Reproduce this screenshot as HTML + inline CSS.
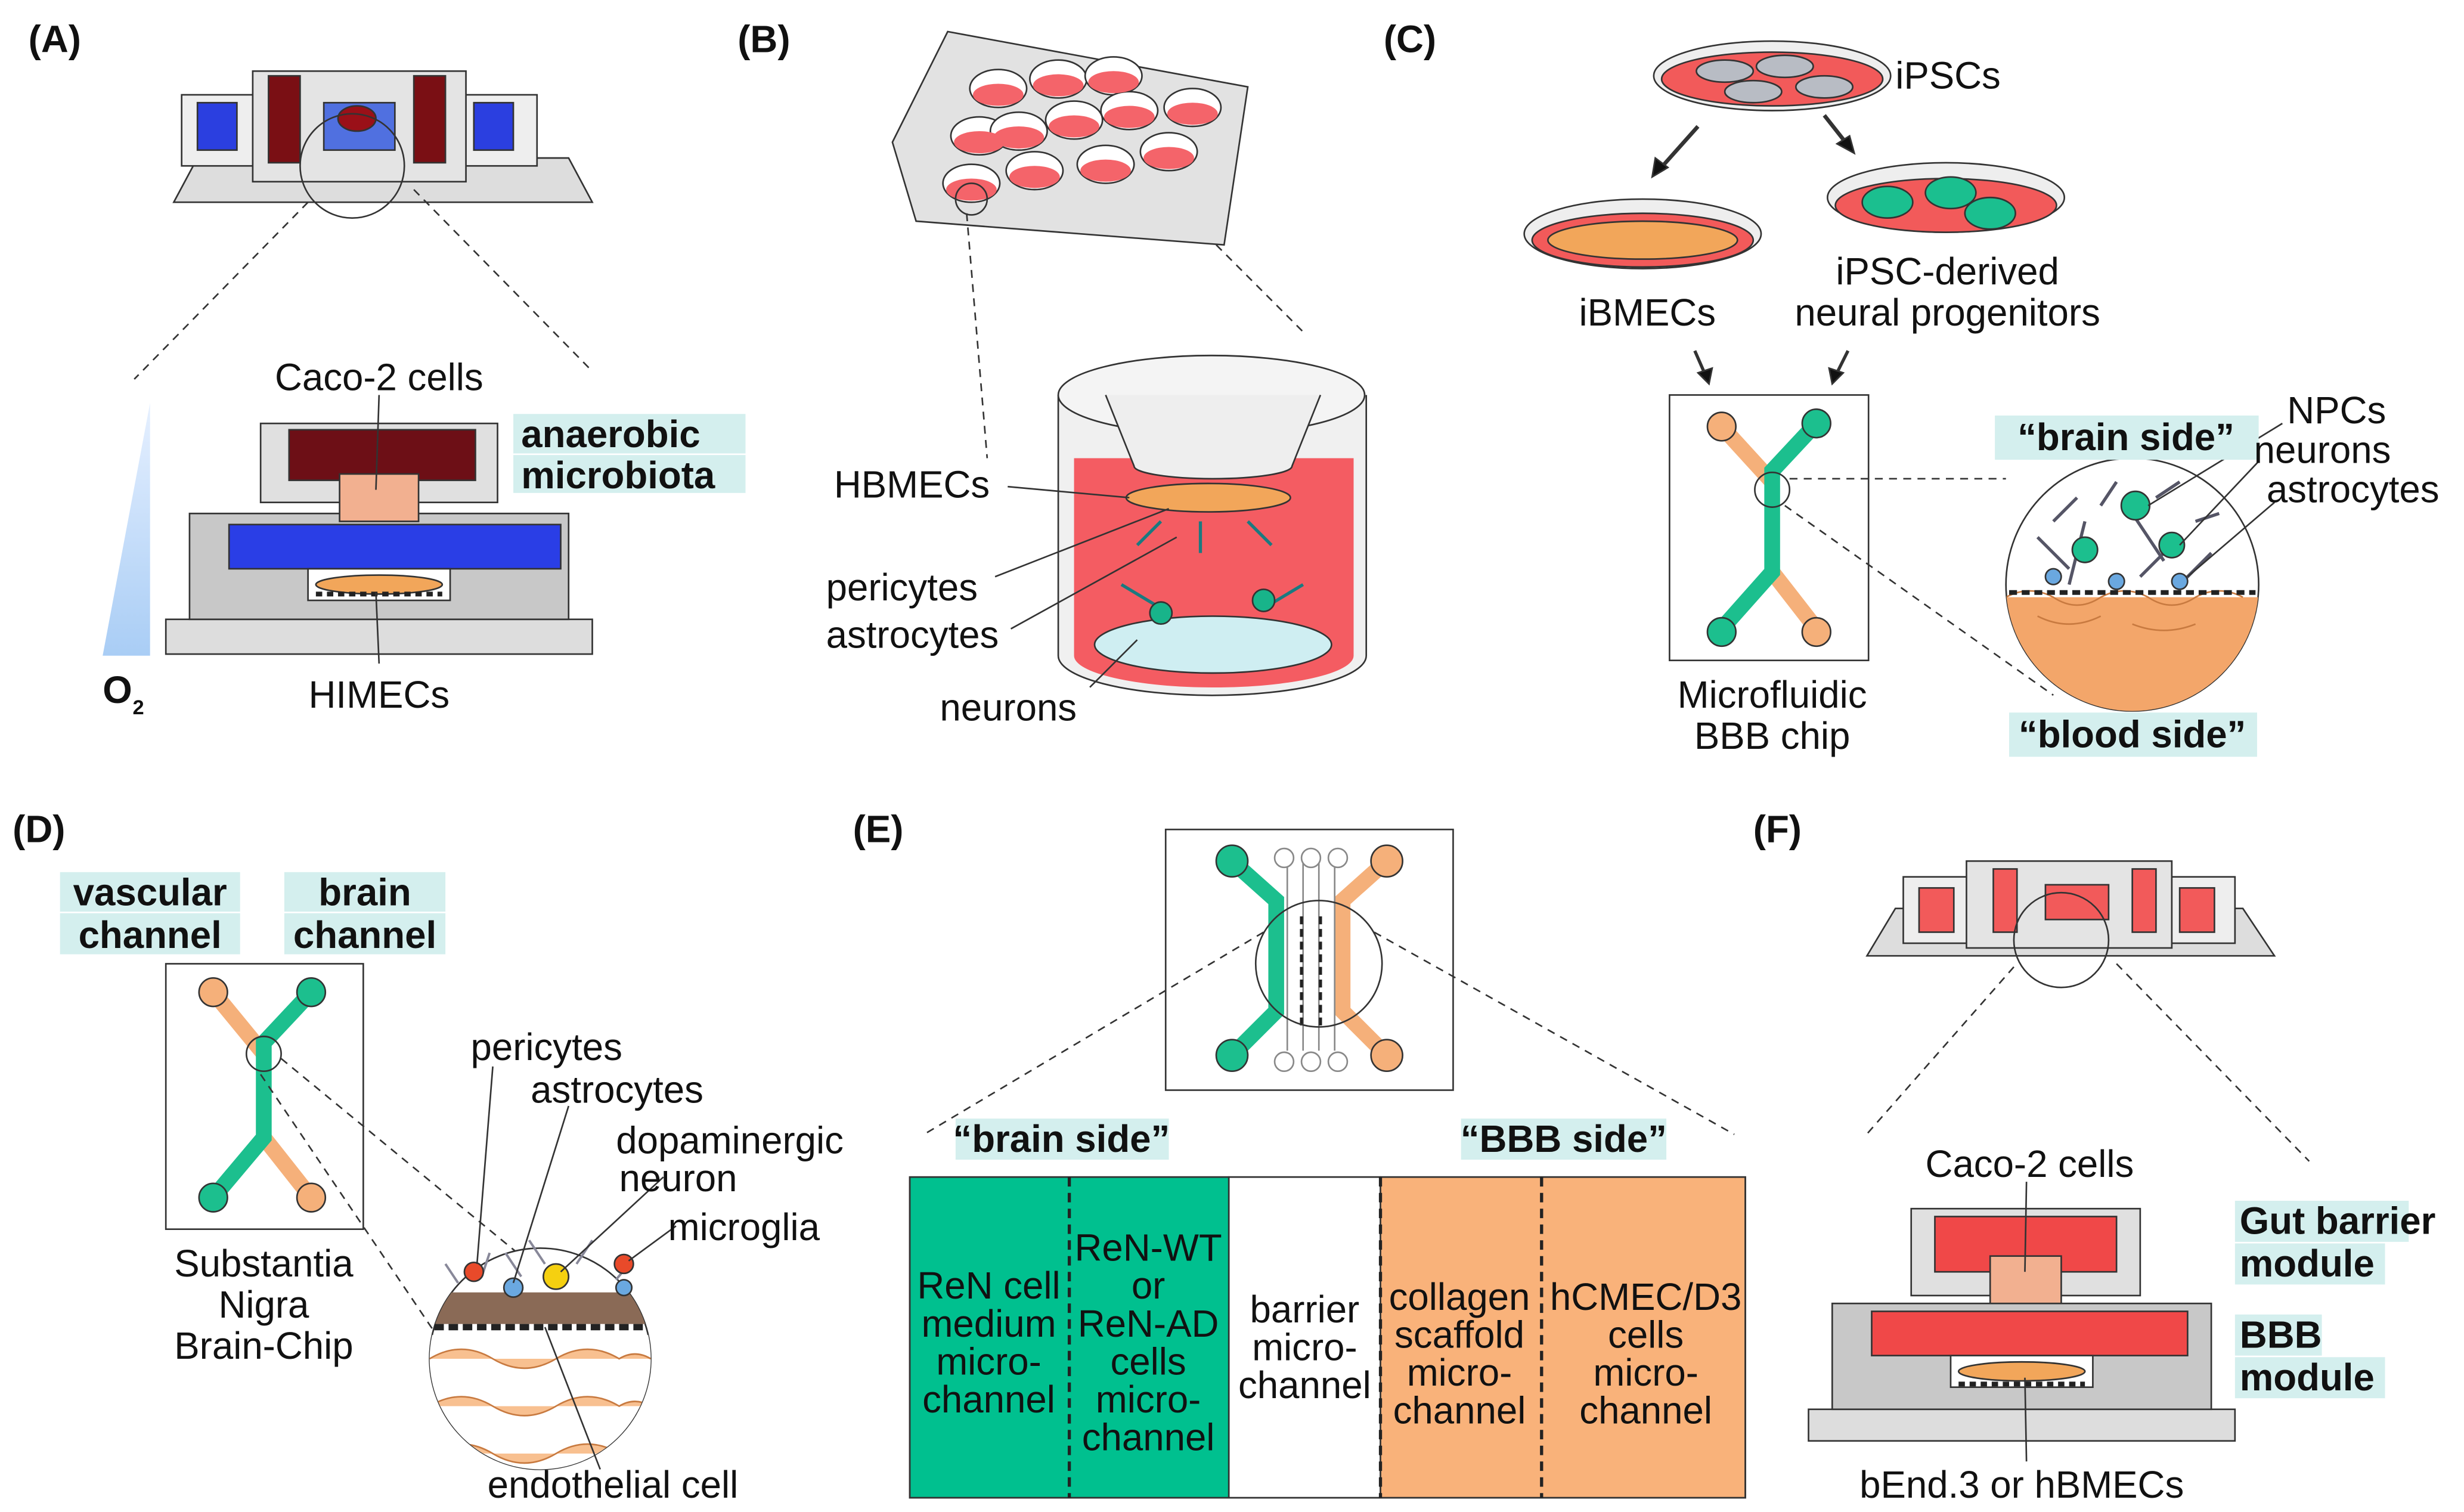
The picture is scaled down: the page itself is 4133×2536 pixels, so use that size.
<!DOCTYPE html>
<html><head><meta charset="utf-8"><style>
html,body{margin:0;padding:0;background:#fff;width:4133px;height:2536px;overflow:hidden}
svg{display:block}
text{font-family:"Liberation Sans",sans-serif;fill:#111}
.l{font-size:24px}
.b{font-size:24px;font-weight:bold}
</style></head><body>
<svg width="4133" height="2536" viewBox="0 0 1560 957" preserveAspectRatio="none" xmlns="http://www.w3.org/2000/svg">
<defs>
<linearGradient id="o2" x1="0" y1="0" x2="0" y2="1"><stop offset="0" stop-color="#e6f0ff"/><stop offset="1" stop-color="#a9cdf5"/></linearGradient>
<clipPath id="cc"><circle cx="1350" cy="370" r="80"/></clipPath>
<clipPath id="cd"><circle cx="342" cy="860" r="70"/></clipPath>
</defs>
<g stroke="#333" stroke-width="1" fill="none">
<!-- ===== A ===== -->
<polygon points="110,128 375,128 360,100 125,100" fill="#ddd"/>
<rect x="115" y="60" width="50" height="45" fill="#eee"/><rect x="125" y="65" width="25" height="30" fill="#2b3fe0"/>
<rect x="290" y="60" width="50" height="45" fill="#eee"/><rect x="300" y="65" width="25" height="30" fill="#2b3fe0"/>
<rect x="160" y="45" width="135" height="70" fill="#e4e4e4"/>
<rect x="170" y="48" width="20" height="55" fill="#7a0f14"/><rect x="262" y="48" width="20" height="55" fill="#7a0f14"/>
<rect x="205" y="65" width="45" height="30" fill="#5070e0"/><ellipse cx="226" cy="75" rx="12" ry="8" fill="#9a1018"/>
<circle cx="223" cy="105" r="33"/>
<line x1="195" y1="128" x2="85" y2="240" stroke-dasharray="5,4"/>
<line x1="262" y1="120" x2="375" y2="235" stroke-dasharray="5,4"/>
<polygon points="65,415 95,415 95,255" fill="url(#o2)" stroke="none"/>
<rect x="105" y="392" width="270" height="22" fill="#ddd"/>
<rect x="120" y="325" width="240" height="67" fill="#c8c8c8"/>
<rect x="145" y="332" width="210" height="28" fill="#2a3ee6"/>
<rect x="165" y="268" width="150" height="50" fill="#e0e0e0"/>
<rect x="183" y="272" width="118" height="32" fill="#6d0f16"/>
<rect x="215" y="300" width="50" height="30" fill="#f2b090"/>
<rect x="195" y="360" width="90" height="20" fill="#fff"/>
<ellipse cx="240" cy="370" rx="40" ry="6" fill="#f2a65a"/>
<line x1="200" y1="376" x2="280" y2="376" stroke="#222" stroke-width="3" stroke-dasharray="4,3"/>
<line x1="240" y1="250" x2="238" y2="310"/>
<line x1="240" y1="420" x2="238" y2="375"/>
<!-- ===== B ===== -->
<polygon points="565,90 600,20 790,55 775,155 580,140" fill="#e2e2e2"/>
<g fill="#fff">
<ellipse cx="632" cy="56" rx="18" ry="12"/><ellipse cx="670" cy="50" rx="18" ry="12"/><ellipse cx="705" cy="48" rx="18" ry="12"/>
<ellipse cx="620" cy="86" rx="18" ry="12"/><ellipse cx="680" cy="76" rx="18" ry="12"/><ellipse cx="715" cy="70" rx="18" ry="12"/>
<ellipse cx="615" cy="116" rx="18" ry="12"/><ellipse cx="655" cy="108" rx="18" ry="12"/><ellipse cx="700" cy="104" rx="18" ry="12"/>
<ellipse cx="740" cy="96" rx="18" ry="12"/><ellipse cx="645" cy="83" rx="18" ry="12"/><ellipse cx="755" cy="68" rx="18" ry="12"/>
</g>
<g fill="#f4646a" stroke="none">
<ellipse cx="632" cy="60" rx="16" ry="7"/><ellipse cx="670" cy="54" rx="16" ry="7"/><ellipse cx="705" cy="52" rx="16" ry="7"/>
<ellipse cx="620" cy="90" rx="16" ry="7"/><ellipse cx="680" cy="80" rx="16" ry="7"/><ellipse cx="715" cy="74" rx="16" ry="7"/>
<ellipse cx="615" cy="120" rx="16" ry="7"/><ellipse cx="655" cy="112" rx="16" ry="7"/><ellipse cx="700" cy="108" rx="16" ry="7"/>
<ellipse cx="740" cy="100" rx="16" ry="7"/><ellipse cx="645" cy="87" rx="16" ry="7"/><ellipse cx="755" cy="72" rx="16" ry="7"/>
</g>
<circle cx="615" cy="126" r="10"/>
<line x1="612" y1="135" x2="625" y2="290" stroke-dasharray="5,4"/>
<line x1="770" y1="155" x2="825" y2="210" stroke-dasharray="5,4"/>
<path d="M670,250 v165 a97,25 0 0 0 195,0 v-165" fill="#f0f0f0"/>
<path d="M680,290 v125 a88,20 0 0 0 177,0 v-125 z" fill="#f45c62" stroke="none"/>
<ellipse cx="767" cy="250" rx="97" ry="25" fill="#f4f4f4"/>
<path d="M700,250 L718,295 a50,8 0 0 0 100,0 L836,250" fill="#eee"/>
<ellipse cx="768" cy="408" rx="75" ry="18" fill="#cfeef2"/>
<ellipse cx="765" cy="315" rx="52" ry="9" fill="#f2a65a"/>
<path d="M735,330 l-15,15 M760,330 l0,20 M790,330 l15,15 M735,385 l-25,-15 M800,385 l25,-15" stroke="#1a7a80" stroke-width="2"/>
<circle cx="735" cy="388" r="7" fill="#18b48a"/><circle cx="800" cy="380" r="7" fill="#18b48a"/>
<line x1="638" y1="308" x2="715" y2="315"/>
<line x1="630" y1="365" x2="740" y2="322"/>
<line x1="640" y1="398" x2="745" y2="340"/>
<line x1="690" y1="435" x2="720" y2="405"/>
<!-- ===== C ===== -->
<ellipse cx="1122" cy="48" rx="75" ry="22" fill="#eee"/><ellipse cx="1122" cy="50" rx="70" ry="17" fill="#f25a5a"/>
<ellipse cx="1092" cy="45" rx="18" ry="7" fill="#b8bcc4"/><ellipse cx="1130" cy="42" rx="18" ry="7" fill="#b8bcc4"/><ellipse cx="1110" cy="58" rx="18" ry="7" fill="#b8bcc4"/><ellipse cx="1155" cy="55" rx="18" ry="7" fill="#b8bcc4"/>
<ellipse cx="1040" cy="148" rx="75" ry="22" fill="#eee"/><ellipse cx="1040" cy="152" rx="70" ry="17" fill="#f25a5a"/>
<ellipse cx="1040" cy="152" rx="60" ry="12" fill="#f2a65a"/>
<ellipse cx="1232" cy="125" rx="75" ry="22" fill="#eee"/><ellipse cx="1232" cy="130" rx="70" ry="17" fill="#f25a5a"/>
<ellipse cx="1195" cy="128" rx="16" ry="10" fill="#1bbf8f"/><ellipse cx="1235" cy="122" rx="16" ry="10" fill="#1bbf8f"/><ellipse cx="1260" cy="135" rx="16" ry="10" fill="#1bbf8f"/>
<line x1="1075" y1="80" x2="1050" y2="108" stroke-width="2.5"/><polygon points="1046,112 1048,100 1056,106" fill="#111"/>
<line x1="1155" y1="73" x2="1170" y2="92" stroke-width="2.5"/><polygon points="1174,97 1163,91 1171,86" fill="#111"/>
<line x1="1073" y1="222" x2="1080" y2="238" stroke-width="2"/><polygon points="1082,243 1075,236 1084,233" fill="#111"/>
<line x1="1170" y1="222" x2="1162" y2="238" stroke-width="2"/><polygon points="1160,243 1158,233 1167,236" fill="#111"/>
<rect x="1057" y="250" width="126" height="168" fill="#fff"/>
<path d="M1090,270 L1122,305" stroke="#f5b07a" stroke-width="10"/>
<path d="M1122,362 L1150,398" stroke="#f5b07a" stroke-width="10"/>
<path d="M1150,268 L1122,298 L1122,362 L1090,398" stroke="#1cbf8e" stroke-width="10" fill="none"/>
<circle cx="1090" cy="270" r="9" fill="#f5b07a"/><circle cx="1150" cy="268" r="9" fill="#1cbf8e"/>
<circle cx="1090" cy="400" r="9" fill="#1cbf8e"/><circle cx="1150" cy="400" r="9" fill="#f5b07a"/>
<circle cx="1122" cy="310" r="11"/>
<line x1="1133" y1="303" x2="1270" y2="303" stroke-dasharray="5,4"/>
<line x1="1130" y1="320" x2="1300" y2="440" stroke-dasharray="5,4"/>
<circle cx="1350" cy="370" r="80" fill="#fff"/>
<g clip-path="url(#cc)">
<rect x="1265" y="378" width="170" height="80" fill="#f3a66a" stroke="none"/>
<path d="M1270,378 q15,-8 30,0 q15,10 30,0 q15,-8 30,0 q15,10 30,0 q15,-8 30,0 M1290,390 q20,10 40,0 M1350,395 q20,8 40,0" stroke="#c87a40"/>
</g>
<line x1="1272" y1="375" x2="1428" y2="375" stroke="#222" stroke-width="3" stroke-dasharray="5,3"/>
<path d="M1290,340 l20,20 M1320,330 l-10,40 M1350,325 l20,30 M1380,340 l-25,25 M1400,350 l-20,20 M1300,330 l15,-15 M1330,320 l10,-15 M1365,315 l15,-10 M1390,330 l15,-5" stroke="#556" stroke-width="2"/>
<circle cx="1320" cy="348" r="8" fill="#1cbf8e"/><circle cx="1352" cy="320" r="9" fill="#1cbf8e"/><circle cx="1375" cy="345" r="8" fill="#1cbf8e"/>
<circle cx="1300" cy="365" r="5" fill="#6aa8e0"/><circle cx="1340" cy="368" r="5" fill="#6aa8e0"/><circle cx="1380" cy="368" r="5" fill="#6aa8e0"/>
<line x1="1445" y1="268" x2="1360" y2="320"/><line x1="1430" y1="292" x2="1380" y2="345"/><line x1="1440" y1="318" x2="1385" y2="365"/>
<!-- ===== D ===== -->
<rect x="105" y="610" width="125" height="168" fill="#fff"/>
<path d="M135,628 L167,667 M167,720 L197,758" stroke="#f5b07a" stroke-width="10"/>
<path d="M197,628 L167,660 L167,720 L135,758" stroke="#1cbf8e" stroke-width="10" fill="none"/>
<circle cx="135" cy="628" r="9" fill="#f5b07a"/><circle cx="197" cy="628" r="9" fill="#1cbf8e"/>
<circle cx="135" cy="758" r="9" fill="#1cbf8e"/><circle cx="197" cy="758" r="9" fill="#f5b07a"/>
<circle cx="167" cy="667" r="11"/>
<line x1="178" y1="670" x2="330" y2="795" stroke-dasharray="5,4"/>
<line x1="165" y1="680" x2="300" y2="880" stroke-dasharray="5,4"/>
<circle cx="342" cy="860" r="70" fill="#fff"/>
<g clip-path="url(#cd)">
<rect x="270" y="845" width="145" height="90" fill="#fff" stroke="none"/>
<path d="M272,860 q20,-12 40,0 q20,12 40,0 q20,-12 40,0 q10,-6 20,0 M272,890 q20,-12 40,0 q20,12 40,0 q20,-12 40,0 q10,-6 20,0 M272,920 q20,-12 40,0 q20,12 40,0 q20,-12 40,0" stroke="#c87a40" fill="#f8c090"/>
<rect x="270" y="818" width="145" height="20" fill="#8a6a56" stroke="none"/>
</g>
<line x1="275" y1="840" x2="409" y2="840" stroke="#222" stroke-width="4" stroke-dasharray="6,3"/>
<path d="M290,812 l-8,-12 M305,808 l5,-15 M330,808 l-10,-15 M345,800 l-10,-15 M365,800 l10,-15 M390,810 l10,-12" stroke="#889" stroke-width="1.5"/>
<circle cx="300" cy="805" r="6" fill="#e84a2a"/><circle cx="325" cy="815" r="6" fill="#6aa8e0"/><circle cx="352" cy="808" r="8" fill="#f5d010"/><circle cx="395" cy="800" r="6" fill="#e84a2a"/><circle cx="395" cy="815" r="5" fill="#6aa8e0"/>
<line x1="312" y1="675" x2="302" y2="800"/><line x1="360" y1="700" x2="325" y2="812"/><line x1="420" y1="745" x2="355" y2="805"/><line x1="428" y1="776" x2="398" y2="798"/>
<line x1="380" y1="930" x2="345" y2="840"/>
<!-- ===== E ===== -->
<rect x="738" y="525" width="182" height="165" fill="#fff"/>
<path d="M780,545 L808,570 L808,640 L780,668" stroke="#1cbf8e" stroke-width="10"/>
<path d="M878,545 L850,570 L850,640 L878,668" stroke="#f5b07a" stroke-width="10"/>
<circle cx="780" cy="545" r="10" fill="#1cbf8e"/><circle cx="780" cy="668" r="10" fill="#1cbf8e"/>
<circle cx="878" cy="545" r="10" fill="#f5b07a"/><circle cx="878" cy="668" r="10" fill="#f5b07a"/>
<g stroke="#888"><path d="M815,545 v120 M825,545 v120 M835,545 v120 M845,545 v120"/>
<circle cx="813" cy="543" r="6" fill="#fff"/><circle cx="830" cy="543" r="6" fill="#fff"/><circle cx="847" cy="543" r="6" fill="#fff"/>
<circle cx="813" cy="672" r="6" fill="#fff"/><circle cx="830" cy="672" r="6" fill="#fff"/><circle cx="847" cy="672" r="6" fill="#fff"/></g>
<path d="M824,580 v70 M836,580 v70" stroke="#222" stroke-width="2" stroke-dasharray="5,3"/>
<circle cx="835" cy="610" r="40"/>
<line x1="800" y1="590" x2="585" y2="718" stroke-dasharray="5,4"/>
<line x1="870" y1="590" x2="1098" y2="718" stroke-dasharray="5,4"/>
<rect x="576" y="745" width="202" height="203" fill="#00c08f"/>
<rect x="778" y="745" width="96" height="203" fill="#fff"/>
<rect x="874" y="745" width="231" height="203" fill="#f9b27a"/>
<rect x="576" y="745" width="529" height="203" fill="none"/>
<path d="M677,745 v203 M874,745 v203 M976,745 v203" stroke="#222" stroke-width="2" stroke-dasharray="6,4"/>
<!-- ===== F ===== -->
<polygon points="1182,605 1440,605 1420,575 1200,575" fill="#ddd"/>
<rect x="1205" y="555" width="45" height="42" fill="#eee"/><rect x="1215" y="562" width="22" height="28" fill="#f25a5a"/>
<rect x="1370" y="555" width="45" height="42" fill="#eee"/><rect x="1380" y="562" width="22" height="28" fill="#f25a5a"/>
<rect x="1245" y="545" width="130" height="55" fill="#e4e4e4"/>
<rect x="1262" y="550" width="15" height="40" fill="#f25a5a"/><rect x="1350" y="550" width="15" height="40" fill="#f25a5a"/>
<rect x="1295" y="560" width="40" height="22" fill="#f25a5a"/>
<circle cx="1305" cy="595" r="30"/>
<line x1="1275" y1="612" x2="1180" y2="720" stroke-dasharray="5,4"/>
<line x1="1340" y1="610" x2="1462" y2="735" stroke-dasharray="5,4"/>
<rect x="1145" y="892" width="270" height="20" fill="#ddd"/>
<rect x="1160" y="825" width="240" height="67" fill="#c8c8c8"/>
<rect x="1185" y="830" width="200" height="28" fill="#f04848"/>
<rect x="1210" y="765" width="145" height="55" fill="#e0e0e0"/>
<rect x="1225" y="770" width="115" height="35" fill="#f04848"/>
<rect x="1260" y="795" width="45" height="30" fill="#f2b090"/>
<rect x="1235" y="858" width="90" height="20" fill="#fff"/>
<ellipse cx="1280" cy="868" rx="40" ry="6" fill="#f2a65a"/>
<line x1="1240" y1="876" x2="1320" y2="876" stroke="#222" stroke-width="3" stroke-dasharray="4,3"/>
<line x1="1283" y1="748" x2="1282" y2="805"/><line x1="1283" y1="925" x2="1282" y2="872"/>
</g>
<g fill="#d4efee">
<rect x="325" y="262" width="147" height="25"/><rect x="325" y="288" width="147" height="24"/>
<rect x="1263" y="263" width="167" height="28"/><rect x="1272" y="451" width="157" height="28"/>
<rect x="38" y="552" width="114" height="25"/><rect x="38" y="578" width="114" height="26"/>
<rect x="180" y="552" width="102" height="25"/><rect x="180" y="578" width="102" height="26"/>
<rect x="605" y="708" width="135" height="26"/><rect x="925" y="708" width="130" height="26"/>
<rect x="1415" y="760" width="110" height="26"/><rect x="1415" y="787" width="95" height="26"/>
<rect x="1415" y="832" width="55" height="26"/><rect x="1415" y="859" width="95" height="26"/>
</g>
<text x="18" y="33" class="b">(A)</text><text x="467" y="33" class="b">(B)</text><text x="876" y="33" class="b">(C)</text>
<text x="8" y="533" class="b">(D)</text><text x="540" y="533" class="b">(E)</text><text x="1110" y="533" class="b">(F)</text>
<text x="240" y="247" class="l" text-anchor="middle">Caco-2 cells</text>
<text x="330" y="283" class="b">anaerobic</text><text x="330" y="309" class="b">microbiota</text>
<text x="240" y="448" class="l" text-anchor="middle">HIMECs</text>
<text x="65" y="445" class="b">O</text><text x="84" y="452" style="font-size:13px;font-weight:bold">2</text>
<text x="528" y="315" class="l">HBMECs</text><text x="523" y="380" class="l">pericytes</text><text x="523" y="410" class="l">astrocytes</text><text x="595" y="456" class="l">neurons</text>
<text x="1200" y="56" class="l">iPSCs</text><text x="1043" y="206" class="l" text-anchor="middle">iBMECs</text>
<text x="1233" y="180" class="l" text-anchor="middle">iPSC-derived</text><text x="1233" y="206" class="l" text-anchor="middle">neural progenitors</text>
<text x="1122" y="448" class="l" text-anchor="middle">Microfluidic</text><text x="1122" y="474" class="l" text-anchor="middle">BBB chip</text>
<text x="1346" y="285" class="b" text-anchor="middle">“brain side”</text><text x="1350" y="473" class="b" text-anchor="middle">“blood side”</text>
<text x="1448" y="268" class="l">NPCs</text><text x="1427" y="293" class="l">neurons</text><text x="1435" y="318" class="l">astrocytes</text>
<text x="95" y="573" class="b" text-anchor="middle">vascular</text><text x="95" y="600" class="b" text-anchor="middle">channel</text>
<text x="231" y="573" class="b" text-anchor="middle">brain</text><text x="231" y="600" class="b" text-anchor="middle">channel</text>
<text x="167" y="808" class="l" text-anchor="middle">Substantia</text><text x="167" y="834" class="l" text-anchor="middle">Nigra</text><text x="167" y="860" class="l" text-anchor="middle">Brain-Chip</text>
<text x="298" y="671" class="l">pericytes</text><text x="336" y="698" class="l">astrocytes</text><text x="390" y="730" class="l">dopaminergic</text><text x="392" y="754" class="l">neuron</text><text x="423" y="785" class="l">microglia</text>
<text x="388" y="948" class="l" text-anchor="middle">endothelial cell</text>
<text x="672" y="729" class="b" text-anchor="middle">“brain side”</text><text x="990" y="729" class="b" text-anchor="middle">“BBB side”</text>
<text x="626" y="822" class="l" text-anchor="middle">ReN cell</text><text x="626" y="846" class="l" text-anchor="middle">medium</text><text x="626" y="870" class="l" text-anchor="middle">micro-</text><text x="626" y="894" class="l" text-anchor="middle">channel</text>
<text x="727" y="798" class="l" text-anchor="middle">ReN-WT</text><text x="727" y="822" class="l" text-anchor="middle">or</text><text x="727" y="846" class="l" text-anchor="middle">ReN-AD</text><text x="727" y="870" class="l" text-anchor="middle">cells</text><text x="727" y="894" class="l" text-anchor="middle">micro-</text><text x="727" y="918" class="l" text-anchor="middle">channel</text>
<text x="826" y="837" class="l" text-anchor="middle">barrier</text><text x="826" y="861" class="l" text-anchor="middle">micro-</text><text x="826" y="885" class="l" text-anchor="middle">channel</text>
<text x="924" y="829" class="l" text-anchor="middle">collagen</text><text x="924" y="853" class="l" text-anchor="middle">scaffold</text><text x="924" y="877" class="l" text-anchor="middle">micro-</text><text x="924" y="901" class="l" text-anchor="middle">channel</text>
<text x="1042" y="829" class="l" text-anchor="middle">hCMEC/D3</text><text x="1042" y="853" class="l" text-anchor="middle">cells</text><text x="1042" y="877" class="l" text-anchor="middle">micro-</text><text x="1042" y="901" class="l" text-anchor="middle">channel</text>
<text x="1285" y="745" class="l" text-anchor="middle">Caco-2 cells</text>
<text x="1418" y="781" class="b">Gut barrier</text><text x="1418" y="808" class="b">module</text>
<text x="1418" y="853" class="b">BBB</text><text x="1418" y="880" class="b">module</text>
<text x="1280" y="948" class="l" text-anchor="middle">bEnd.3 or hBMECs</text>
</svg>
</body></html>
